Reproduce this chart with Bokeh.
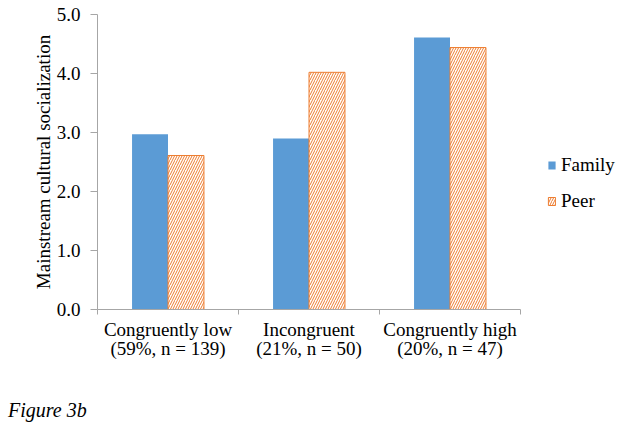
from bokeh.plotting import figure
from bokeh.models import (Range1d, FixedTicker, NumeralTickFormatter,
                          ColumnDataSource, Legend, LegendItem, Div)
from bokeh.layouts import column
from bokeh.transform import dodge
from bokeh.embed import file_html
from bokeh.resources import INLINE

categories = ["Congruently low", "Incongruent", "Congruently high"]
cat_labels = ["Congruently low\n(59%, n = 139)", "Incongruent\n(21%, n = 50)", "Congruently high\n(20%, n = 47)"]
family = [2.97, 2.90, 4.61]
peer = [2.61, 4.02, 4.44]
y_ticks = [0, 1, 2, 3, 4, 5]
caption = "Figure 3b"

FONT = "Liberation Serif"
SIZE = "19px"
BLUE = "#5B9BD5"
ORANGE = "#ED7D31"
AXIS = "#a6a6a6"

n = len(categories)
# each category occupies 2 units on the x scale; its centre is at 2*i + 1
centres = [2 * i + 1 for i in range(n)]
src = ColumnDataSource(dict(cat=categories, pos=centres, family=family, peer=peer))

W, H = 623, 399
LEFT, RIGHT, TOP, BOTTOM = 97, 3, 14, 90
axis_px = 423                     # pixel length of the category axis
frame_w = W - LEFT - RIGHT
x_end = 2 * n * frame_w / axis_px  # extend range so the legend sits inside the frame

p = figure(x_range=Range1d(0, x_end), y_range=Range1d(0, 5), width=W, height=H,
           output_backend="svg", toolbar_location=None,
           min_border_left=LEFT, min_border_right=RIGHT, min_border_top=TOP, min_border_bottom=BOTTOM)
p.outline_line_color = None
p.grid.visible = False
p.background_fill_color = "white"
p.border_fill_color = "white"

bw = 0.51
rf = p.vbar(x=dodge("pos", -bw / 2), top="family", width=bw, source=src,
            fill_color=BLUE, line_color=None)
rp = p.vbar(x=dodge("pos", bw / 2), top="peer", width=bw, source=src,
            fill_color="white", line_color=ORANGE, line_width=1,
            hatch_pattern="/", hatch_color=ORANGE, hatch_scale=5, hatch_weight=1)

# y axis
ya = p.yaxis[0]
ya.ticker = FixedTicker(ticks=y_ticks)
ya.formatter = NumeralTickFormatter(format="0.0")
ya.minor_tick_line_color = None
ya.major_tick_in = 0
ya.major_tick_out = 7
ya.major_label_standoff = 10
ya.axis_line_color = AXIS
ya.major_tick_line_color = AXIS
ya.major_label_text_font = FONT
ya.major_label_text_font_size = SIZE
ya.major_label_text_color = "black"
ya.axis_label = "Mainstream cultural socialization"
ya.axis_label_text_font = FONT
ya.axis_label_text_font_size = SIZE
ya.axis_label_text_font_style = "normal"
ya.axis_label_text_color = "black"
ya.axis_label_standoff = 0

# x axis: labels at category centres, ticks at category boundaries
xa = p.xaxis[0]
xa.bounds = (0, 2 * n)
xa.ticker = FixedTicker(ticks=centres, minor_ticks=[2 * i for i in range(n + 1)])
xa.major_label_overrides = {c: lab for c, lab in zip(centres, cat_labels)}
xa.major_tick_line_color = None
xa.minor_tick_line_color = AXIS
xa.minor_tick_in = 0
xa.minor_tick_out = 5
xa.axis_line_color = AXIS
xa.major_label_text_font = FONT
xa.major_label_text_font_size = SIZE
xa.major_label_text_color = "black"
xa.major_label_standoff = 3
xa.major_label_text_line_height = 0.95

legend = Legend(items=[LegendItem(label="Family", renderers=[rf]),
                       LegendItem(label="Peer", renderers=[rp])],
                location=(450, 97), orientation="vertical",
                padding=0, margin=0, spacing=14, label_standoff=5,
                glyph_width=9, glyph_height=10, label_height=20,
                label_text_font=FONT, label_text_font_size=SIZE, label_text_color="black",
                border_line_color=None, background_fill_alpha=0)
p.add_layout(legend, "center")

cap = Div(text=caption, width=200, height=28, margin=(0, 0, 0, 8),
          styles={"font-family": FONT, "font-size": "20px", "font-style": "italic",
                  "color": "black", "line-height": "23px"})

open("out.html", "w").write(file_html(column(p, cap, spacing=0), INLINE))
